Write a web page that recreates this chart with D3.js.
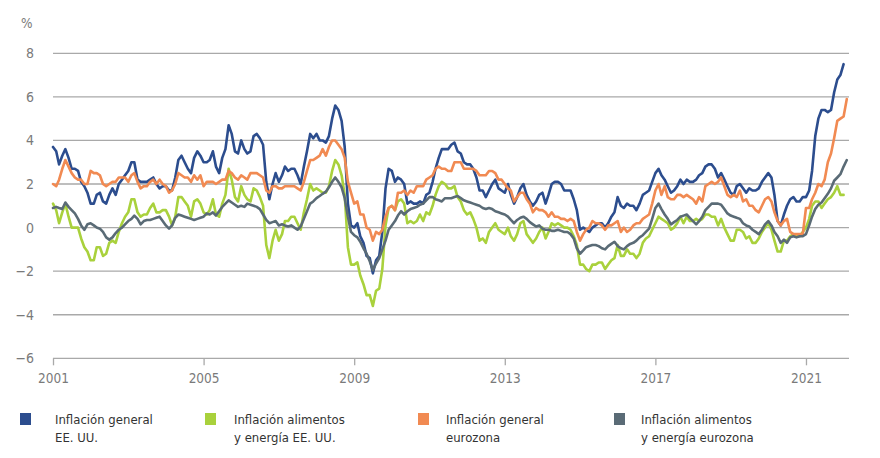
<!DOCTYPE html>
<html>
<head>
<meta charset="utf-8">
<script src="https://cdn.jsdelivr.net/npm/d3@7"></script>
<style>
  html, body { margin: 0; padding: 0; background: #fff; }
  svg { display: block; }
  text { font-family: "DejaVu Sans Condensed", "DejaVu Sans", sans-serif; font-stretch: condensed; }
</style>
</head>
<body>
<svg id="chart" width="880" height="458"></svg>
<script>
// ---------------- DATA (monthly, starting January 2001) ----------------
const startYear = 2001;
const startMonth = 0;

const yTicks = [8, 6, 4, 2, 0, -2, -4, -6];
const xTickYears = [2001, 2005, 2009, 2013, 2017, 2021];
const unitLabel = "%";

const seriesNames = [
  ["Inflación general", "EE. UU."],
  ["Inflación alimentos", "y energía EE. UU."],
  ["Inflación general", "eurozona"],
  ["Inflación alimentos", "y energía eurozona"]
];
const seriesColors = ["#2c4d8e", "#a9d13c", "#f18a52", "#5a6b76"];

const usHeadline = [
  3.7, 3.5, 2.9, 3.3, 3.6, 3.2, 2.7, 2.7, 2.6, 2.1, 1.9, 1.6,
  1.1, 1.1, 1.5, 1.6, 1.2, 1.1, 1.5, 1.8, 1.5, 2.0, 2.2, 2.4,
  2.6, 3.0, 3.0, 2.2, 2.1, 2.1, 2.1, 2.2, 2.3, 2.0, 1.8, 1.9,
  1.9, 1.7, 1.7, 2.3, 3.1, 3.3, 3.0, 2.7, 2.5, 3.2, 3.5, 3.3,
  3.0, 3.0, 3.1, 3.5, 2.8, 2.5, 3.2, 3.6, 4.7, 4.3, 3.5, 3.4,
  4.0, 3.6, 3.4, 3.5, 4.2, 4.3, 4.1, 3.8, 2.1, 1.3, 2.0, 2.5,
  2.1, 2.4, 2.8, 2.6, 2.7, 2.7, 2.4, 2.0, 2.8, 3.5, 4.3, 4.1,
  4.3, 4.0, 4.0, 3.9, 4.2, 5.0, 5.6, 5.4, 4.9, 3.7, 1.1, 0.1,
  0.0, 0.2, -0.4, -0.7, -1.3, -1.4, -2.1, -1.5, -1.3, -0.2, 1.8, 2.7,
  2.6, 2.1, 2.3, 2.2, 2.0, 1.1, 1.2, 1.1, 1.1, 1.2, 1.1, 1.5,
  1.6, 2.1, 2.7, 3.2, 3.6, 3.6, 3.6, 3.8, 3.9, 3.5, 3.4, 3.0,
  2.9, 2.9, 2.7, 2.3, 1.7, 1.7, 1.4, 1.7, 2.0, 2.2, 1.8, 1.7,
  1.6, 2.0, 1.5, 1.1, 1.4, 1.8, 2.0, 1.5, 1.2, 1.0, 1.2, 1.5,
  1.6, 1.1, 1.5, 2.0, 2.1, 2.1, 2.0, 1.7, 1.7, 1.7, 1.3, 0.8,
  -0.1, 0.0, -0.1, -0.2, 0.0, 0.1, 0.2, 0.2, 0.0, 0.2, 0.5, 0.7,
  1.4, 1.0, 0.9, 1.1, 1.0, 1.0, 0.8, 1.1, 1.5, 1.6, 1.7, 2.1,
  2.5, 2.7, 2.4, 2.2, 1.9, 1.6, 1.7, 1.9, 2.2, 2.0, 2.2, 2.1,
  2.1, 2.2, 2.4, 2.5, 2.8, 2.9, 2.9, 2.7, 2.3, 2.5, 2.2, 1.9,
  1.6, 1.5, 1.9, 2.0, 1.8, 1.6, 1.8, 1.7, 1.7, 1.8, 2.1, 2.3,
  2.5, 2.3, 1.5, 0.3, 0.1, 0.6, 1.0, 1.3, 1.4, 1.2, 1.2, 1.4,
  1.4, 1.7, 2.6, 4.2, 5.0, 5.4, 5.4, 5.3, 5.4, 6.2, 6.8, 7.0,
  7.5
];

const usFoodEnergy = [
  1.1, 0.8, 0.2, 0.7, 1.1, 0.5, 0.0, 0.0, 0.0, -0.5, -0.9, -1.1,
  -1.5, -1.5, -0.9, -0.9, -1.3, -1.2, -0.7, -0.6, -0.7, -0.2, 0.2, 0.5,
  0.7, 1.3, 1.3, 0.7, 0.5, 0.6, 0.6, 0.9, 1.1, 0.7, 0.7, 0.8,
  0.8, 0.5, 0.1, 0.5, 1.4, 1.4, 1.2, 1.0, 0.5, 1.2, 1.3, 1.1,
  0.7, 0.6, 0.8, 1.3, 0.6, 0.5, 1.1, 1.5, 2.7, 2.2, 1.4, 1.2,
  1.9, 1.5, 1.3, 1.2, 1.8, 1.7, 1.4, 1.0, -0.8, -1.4, -0.6, -0.1,
  -0.6, -0.3, 0.3, 0.3, 0.5, 0.5, 0.2, -0.1, 0.7, 1.3, 2.0, 1.7,
  1.8, 1.7, 1.6, 1.6, 1.9, 2.6, 3.1, 2.9, 2.4, 1.5, -0.9, -1.7,
  -1.7, -1.6, -2.2, -2.6, -3.1, -3.1, -3.6, -2.9, -2.8, -1.9, 0.1, 0.9,
  1.0, 0.8, 1.2, 1.3, 1.1, 0.2, 0.3, 0.2, 0.3, 0.6, 0.3, 0.7,
  0.6, 1.0, 1.5, 1.9, 2.1, 2.0, 1.8, 1.8, 1.9, 1.4, 1.2, 0.8,
  0.6, 0.7, 0.4, 0.0, -0.6, -0.5, -0.7, -0.2, 0.0, 0.2, -0.1, -0.2,
  -0.3, 0.0, -0.4, -0.6, -0.3, 0.2, 0.3, -0.3, -0.5, -0.7, -0.5, -0.2,
  0.0, -0.5, -0.2, 0.2, 0.1, 0.2, 0.1, 0.0, 0.0, -0.1, -0.4, -0.8,
  -1.7, -1.7, -1.9, -2.0, -1.7, -1.7, -1.6, -1.6, -1.9, -1.7, -1.5, -1.4,
  -0.8, -1.3, -1.3, -1.0, -1.2, -1.2, -1.4, -1.2, -0.7, -0.5, -0.4, -0.1,
  0.2, 0.5, 0.4, 0.3, 0.2, -0.1, 0.0, 0.2, 0.5, 0.2, 0.5, 0.3,
  0.3, 0.4, 0.3, 0.4, 0.6, 0.6, 0.5, 0.5, 0.1, 0.4, 0.0, -0.3,
  -0.6, -0.6, -0.1, -0.1, -0.2, -0.5, -0.4, -0.7, -0.7, -0.5, -0.2, 0.0,
  0.2, -0.1, -0.6, -1.1, -1.1, -0.6, -0.6, -0.4, -0.3, -0.4, -0.4, -0.2,
  0.0, 0.4, 1.0, 1.2, 1.2, 0.9, 1.1, 1.3, 1.4, 1.6, 1.9, 1.5,
  1.5
];

const euHeadline = [
  2.0, 1.9, 2.2, 2.7, 3.1, 2.8, 2.5, 2.3, 2.2, 2.2, 2.0, 2.0,
  2.6, 2.5, 2.5, 2.4, 2.0, 1.9, 2.0, 2.1, 2.1, 2.3, 2.3, 2.3,
  2.1, 2.4, 2.5, 2.1, 1.8, 1.9, 1.9, 2.1, 2.2, 2.0, 2.2, 2.0,
  1.9, 1.6, 1.7, 2.0, 2.5, 2.4, 2.3, 2.3, 2.1, 2.4, 2.2, 2.4,
  1.9, 2.1, 2.1, 2.1, 2.0, 2.1, 2.2, 2.2, 2.6, 2.5, 2.3, 2.2,
  2.4, 2.3, 2.2, 2.5, 2.5, 2.5, 2.4, 2.3, 1.7, 1.6, 1.9, 1.9,
  1.8, 1.8, 1.9, 1.9, 1.9, 1.9, 1.8, 1.7, 2.1, 2.6, 3.1, 3.1,
  3.2, 3.3, 3.6, 3.3, 3.7, 4.0, 4.0, 3.8, 3.6, 3.2, 2.1, 1.6,
  1.1, 1.2, 0.6, 0.6, 0.0, -0.1, -0.6, -0.2, -0.3, -0.1, 0.5, 0.9,
  1.0, 0.8, 1.6, 1.6, 1.7, 1.5, 1.7, 1.6, 1.9, 1.9, 1.9, 2.2,
  2.3, 2.4, 2.7, 2.8, 2.7, 2.7, 2.6, 2.6, 3.0, 3.0, 3.0, 2.7,
  2.7, 2.7, 2.7, 2.6, 2.4, 2.4, 2.4, 2.6, 2.6, 2.5, 2.2, 2.2,
  2.0, 1.8, 1.7, 1.2, 1.4, 1.6, 1.6, 1.3, 1.1, 0.7, 0.9, 0.8,
  0.8, 0.7, 0.5, 0.7, 0.5, 0.5, 0.4, 0.4, 0.3, 0.4, 0.3, -0.2,
  -0.6, -0.3, -0.1, 0.0, 0.3, 0.2, 0.2, 0.1, -0.1, 0.1, 0.1, 0.2,
  0.3, -0.2, 0.0, -0.2, -0.1, 0.1, 0.2, 0.2, 0.4, 0.5, 0.6, 1.1,
  1.7, 2.0, 1.5, 1.9, 1.4, 1.3, 1.3, 1.5, 1.5, 1.4, 1.5, 1.4,
  1.3, 1.1, 1.4, 1.2, 1.9, 2.0, 2.1, 2.0, 2.1, 2.3, 1.9, 1.5,
  1.4, 1.5, 1.4, 1.7, 1.2, 1.3, 1.0, 1.0, 0.8, 0.7, 1.0, 1.3,
  1.4, 1.2, 0.7, 0.3, 0.1, 0.3, 0.4, -0.2, -0.3, -0.3, -0.3, -0.3,
  0.9, 0.9, 1.3, 1.6, 2.0, 1.9, 2.2, 3.0, 3.4, 4.1, 4.9, 5.0,
  5.1, 5.9
];

const euFoodEnergy = [
  0.9, 0.95, 0.9, 0.85, 1.15, 0.95, 0.8, 0.65, 0.4, 0.1, -0.1, 0.15,
  0.2, 0.1, 0.0, -0.05, -0.2, -0.45, -0.55, -0.45, -0.25, -0.1, 0.0, 0.15,
  0.3, 0.4, 0.55, 0.4, 0.15, 0.3, 0.35, 0.35, 0.4, 0.45, 0.5, 0.3,
  0.1, -0.05, 0.1, 0.45, 0.6, 0.55, 0.5, 0.45, 0.4, 0.35, 0.4, 0.45,
  0.5, 0.65, 0.6, 0.7, 0.55, 0.75, 0.95, 1.1, 1.25, 1.15, 1.05, 0.95,
  1.0, 0.95, 1.1, 1.05, 1.0, 0.95, 0.85, 0.6, 0.35, 0.2, 0.25, 0.3,
  0.1, 0.15, 0.1, 0.05, 0.1, 0.0, -0.1, 0.05, 0.4, 0.75, 1.1, 1.2,
  1.35, 1.45, 1.55, 1.65, 1.85, 2.1, 2.3, 2.1, 1.85, 1.35, 0.5, -0.2,
  -0.35, -0.45, -0.65, -0.95, -1.2, -1.55, -1.95, -1.65, -1.4, -1.0, -0.6, -0.1,
  0.1, 0.3, 0.55, 0.75, 0.6, 0.75, 0.85, 0.9, 0.95, 1.05, 1.1, 1.25,
  1.4, 1.4, 1.3, 1.25, 1.2, 1.35, 1.35, 1.35, 1.4, 1.45, 1.35, 1.25,
  1.2, 1.15, 1.1, 1.05, 1.0, 0.9, 0.85, 0.9, 0.85, 0.75, 0.7, 0.65,
  0.6, 0.5, 0.35, 0.2, 0.35, 0.45, 0.5, 0.4, 0.25, 0.15, 0.05, 0.1,
  -0.05, -0.1, -0.1, -0.15, -0.15, -0.1, -0.15, -0.2, -0.2, -0.3, -0.5, -0.95,
  -1.2, -1.05, -0.9, -0.85, -0.8, -0.8, -0.85, -0.95, -1.0, -0.85, -0.75, -0.65,
  -0.85, -0.95, -1.0, -0.85, -0.75, -0.7, -0.6, -0.45, -0.35, -0.2, -0.05, 0.4,
  0.9, 1.1, 0.85, 0.6, 0.4, 0.15, 0.25, 0.35, 0.5, 0.55, 0.6, 0.45,
  0.3, 0.15, 0.3, 0.5, 0.8, 0.95, 1.1, 1.1, 1.1, 1.05, 0.85, 0.65,
  0.55, 0.5, 0.45, 0.4, 0.2, 0.1, 0.05, -0.1, -0.2, -0.3, -0.1, 0.15,
  0.3, 0.1, -0.2, -0.4, -0.7, -0.55, -0.7, -0.45, -0.4, -0.45, -0.4, -0.4,
  -0.3, 0.1, 0.5, 0.85, 1.05, 1.15, 1.35, 1.55, 1.8, 2.15, 2.3, 2.45,
  2.8, 3.1
];

const seriesValues = [usHeadline, usFoodEnergy, euHeadline, euFoodEnergy];

// ---------------- CHART ----------------
const svg = d3.select("#chart");
const plotLeft = 53, plotRight = 849, dataEnd = 843.6;
const yTop = 53.3, yBottom = 358.3;

const x = d3.scaleTime()
  .domain([new Date(startYear, startMonth, 1), new Date(2022, 0, 1)])
  .range([plotLeft, dataEnd]);
const y = d3.scaleLinear().domain([-6, 8]).range([yBottom, yTop]);

const textGray = "#7a7a7a";
const gridColor = "#a9a9a9";
const fontFam = '"DejaVu Sans Condensed", "DejaVu Sans", sans-serif';

// gridlines
svg.append("g").selectAll("line")
  .data(yTicks)
  .join("line")
  .attr("x1", plotLeft).attr("x2", plotRight)
  .attr("y1", d => y(d)).attr("y2", d => y(d))
  .attr("stroke", gridColor)
  .attr("stroke-width", 1.3);

// y labels
svg.append("g").selectAll("text")
  .data(yTicks)
  .join("text")
  .attr("x", 34)
  .attr("y", d => y(d))
  .attr("dy", "0.36em")
  .attr("text-anchor", "end")
  .attr("fill", textGray)
  .attr("font-size", 14)
  .text(d => d < 0 ? "\u2212" + Math.abs(d) : String(d));

svg.append("text")
  .attr("x", 21).attr("y", 28)
  .attr("fill", textGray)
  .attr("font-size", 13.5)
  .text(unitLabel);

// x axis
const xAxis = d3.axisBottom(x)
  .tickValues(xTickYears.map(yr => new Date(yr, 0, 1)))
  .tickFormat(d3.timeFormat("%Y"))
  .tickSize(7)
  .tickSizeOuter(0)
  .tickPadding(8);

const gx = svg.append("g")
  .attr("transform", `translate(0,${y(-6)})`)
  .call(xAxis);
gx.select(".domain").remove();
gx.selectAll(".tick line").attr("stroke", gridColor).attr("stroke-width", 1.3);
gx.selectAll(".tick text")
  .attr("fill", textGray)
  .attr("font-size", 13.5)
  .attr("font-family", fontFam);

// lines
const line = d3.line()
  .x((d, i) => x(new Date(startYear, startMonth + i, 1)))
  .y(d => y(d));

svg.append("g").selectAll("path")
  .data(seriesValues)
  .join("path")
  .attr("d", d => line(d))
  .attr("fill", "none")
  .attr("stroke", (d, i) => seriesColors[i])
  .attr("stroke-width", 2.6)
  .attr("stroke-linejoin", "round")
  .attr("stroke-linecap", "round");

// legend
const legendSquareX = [20, 205, 418, 614];
const legendTextX = [55, 234, 446, 641];
const lg = svg.append("g");
seriesNames.forEach((lines, i) => {
  lg.append("rect")
    .attr("x", legendSquareX[i]).attr("y", 413)
    .attr("width", 11).attr("height", 12)
    .attr("fill", seriesColors[i]);
  const t = lg.append("text")
    .attr("x", legendTextX[i]).attr("y", 424)
    .attr("fill", "#333")
    .attr("font-size", 13);
  lines.forEach((ln, j) => {
    t.append("tspan")
      .attr("x", legendTextX[i])
      .attr("dy", j === 0 ? 0 : 17.5)
      .text(ln);
  });
});
</script>
</body>
</html>
